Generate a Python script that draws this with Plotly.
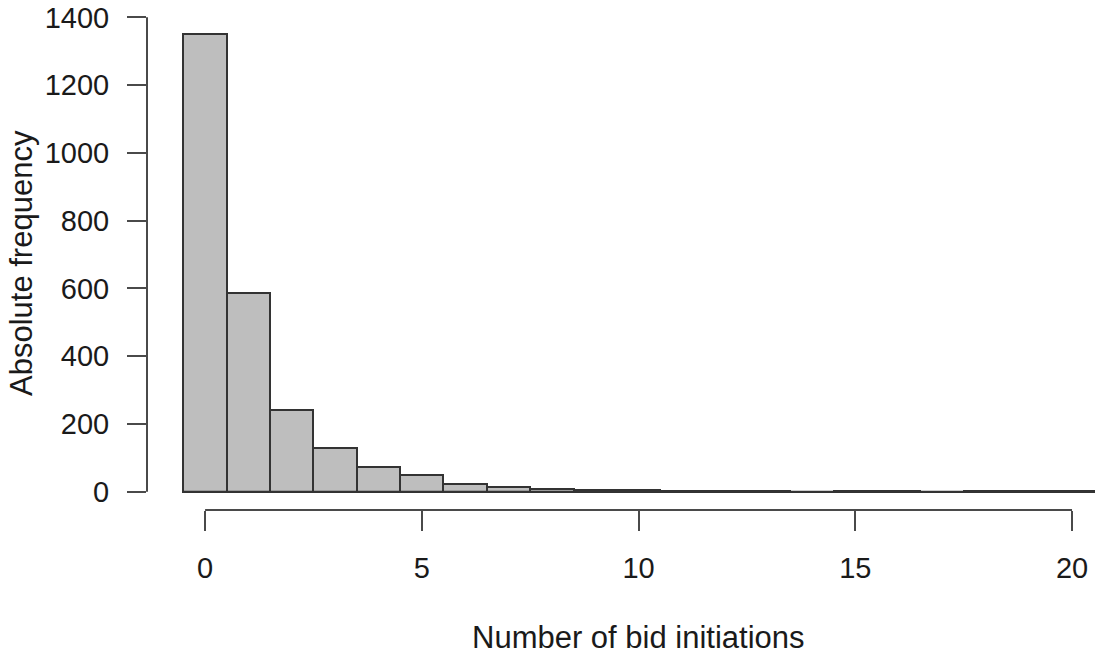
import plotly.graph_objects as go

# Data
bins = list(range(0, 21))
counts = [1350, 587, 240, 130, 74, 48, 24, 15, 7, 4, 4, 1, 2, 2, 0, 2, 2, 0, 1, 1, 1]
x_ticks = [0, 5, 10, 15, 20]
y_ticks = [0, 200, 400, 600, 800, 1000, 1200, 1400]
x_title = "Number of bid initiations"
y_title = "Absolute frequency"

FONT = "Liberation Sans, Arial, Helvetica, sans-serif"
TXT = "#1a1a1a"
AX = "#4a4a4a"

fig = go.Figure()
fig.add_trace(go.Bar(
    x=bins, y=counts, width=1,
    marker=dict(color="#BEBEBE", line=dict(color="#333333", width=2)),
    hoverinfo="x+y",
))

# baseline under all bins (zero-count bins drawn flat, as in R's hist)
fig.add_shape(type="line", xref="x", yref="y",
              x0=bins[0] - 0.5, x1=bins[-1] + 0.5, y0=0, y1=0,
              line=dict(color="#333333", width=2))
# R-style axis lines spanning only the tick range
fig.add_shape(type="line", xref="paper", yref="y", x0=0, x1=0,
              y0=min(y_ticks), y1=max(y_ticks), line=dict(color=AX, width=2))
fig.add_shape(type="line", xref="x", yref="paper", x0=min(x_ticks), x1=max(x_ticks),
              y0=0, y1=0, line=dict(color=AX, width=2))

fig.update_layout(
    width=1095, height=656,
    margin=dict(l=147, r=0, t=16, b=146),
    paper_bgcolor="white", plot_bgcolor="white",
    bargap=0, showlegend=False,
    font=dict(family=FONT, size=29, color=TXT),
    xaxis=dict(range=[-1.34, 20.53], tickvals=x_ticks, ticktext=[str(v) for v in x_ticks],
               ticks="outside", ticklen=20, tickwidth=2, tickcolor=AX,
               showgrid=False, zeroline=False, showline=False,
               ticklabelstandoff=12, ticklabeloverflow="allow",
               tickfont=dict(size=29, color=TXT)),
    yaxis=dict(range=[-54, 1404], tickvals=y_ticks, ticktext=[str(v) for v in y_ticks],
               ticks="outside", ticklen=19, tickwidth=2, tickcolor=AX,
               showgrid=False, zeroline=False, showline=False,
               ticklabelstandoff=12, ticklabeloverflow="allow",
               tickfont=dict(size=29, color=TXT)),
    annotations=[
        dict(text=x_title, xref="x", yref="paper", x=10, y=0, yshift=-127,
             xanchor="center", yanchor="middle", showarrow=False,
             font=dict(size=31, color=TXT, family=FONT)),
        dict(text=y_title, xref="paper", yref="paper", x=0, y=0.5, xshift=-126,
             xanchor="center", yanchor="middle", textangle=-90, showarrow=False,
             font=dict(size=31, color=TXT, family=FONT)),
    ],
)

fig.write_html("out.html", config={"displayModeBar": False},
               post_script="document.body.style.margin='0px';document.body.style.padding='0px';")
